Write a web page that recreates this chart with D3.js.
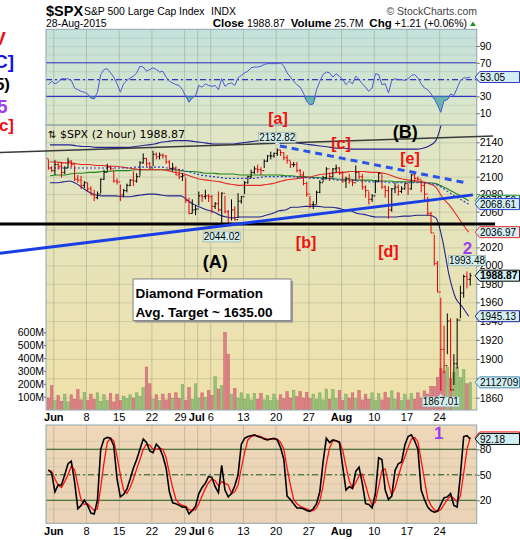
<!DOCTYPE html>
<html><head><meta charset="utf-8">
<script src="https://cdn.jsdelivr.net/npm/d3@7/dist/d3.min.js"></script>
<style>body{margin:0;background:#fff}svg{display:block}</style>
</head><body><svg id="chart" width="520" height="540"></svg>
<script>
// ================= DATA =================
const tickDays   = [1,6,11,16,21,23,25,30,35,40,45,50,55,60];
const tickLabels = ["Jun","8","15","22","29","Jul","6","13","20","27","Aug","10","17","24"];
const monthLabels = ["Jun","Jul","Aug"];
const priceTicks = [1860,1880,1900,1920,1940,1960,1980,2000,2020,2040,2060,2080,2100,2120,2140];
const volTicks   = [100,200,300,400,500,600];
const rsiTicks   = [10,30,50,70,90];
const stochTicks = [20,50,80];
const priorClose = 2120.8;
const prevDayClose = 1987.66;
const lastVolumeText = "25.7M";

// 2 bars per trading day, May 29 .. Aug 28 2015
const barHigh = [
 2120,2112, 2119,2116, 2117,2112, 2122,2119, 2113,2102,
 2101,2095, 2093,2089, 2085,2083, 2098,2108, 2115,2113,
 2107,2098, 2091,2086, 2092,2097, 2106,2104, 2118,2127,
 2122,2117, 2130,2128, 2128,2127, 2125,2119, 2116,2112,
 2109,2104, 2099,2076, 2074,2068, 2083,2080, 2085,2080,
 2079,2071, 2083,2082, 2078,2062, 2074,2066, 2081,2078,
 2095,2101, 2108,2112, 2114,2111, 2120,2125, 2129,2128,
 2132.82,2131, 2128,2125, 2118,2117, 2117,2109, 2106,2094,
 2078,2072, 2084,2096, 2101,2111, 2105,2110, 2114,2111,
 2106,2100, 2103,2097, 2113,2106, 2103,2090, 2083,2080,
 2096,2105, 2103,2090, 2089,2087, 2093,2091, 2089,2092,
 2092,2103, 2103,2100, 2096,2094, 2077,2060, 2034,2005,
 1965,1935, 1948,1943, 1905,1943, 1978,1990, 1993.48,1992];
const barLow = [
 2108,2105, 2102,2108, 2099,2103, 2110,2111, 2095,2093,
 2086,2087, 2083,2079, 2072,2074, 2081,2096, 2106,2107,
 2093,2091, 2072,2077, 2082,2089, 2089,2093, 2101,2115,
 2112,2109, 2112,2120, 2120,2121, 2115,2108, 2106,2102,
 2097,2095, 2070,2057, 2058,2056, 2067,2071, 2074,2071,
 2058,2063, 2060,2044.02, 2058,2045, 2050,2050, 2053,2069,
 2080,2092, 2098,2103, 2104,2102, 2110,2117, 2120,2122,
 2124,2124, 2119,2115, 2110,2111, 2105,2099, 2090,2077,
 2064,2063, 2069,2081, 2094,2098, 2095,2099, 2105,2102,
 2093,2087, 2092,2089, 2095,2097, 2085,2076, 2068,2071,
 2081,2094, 2086,2076, 2052,2060, 2081,2078, 2081,2085,
 2079,2085, 2094,2095, 2082,2071, 2055,2036, 2000,1971,
 1867.01,1885, 1905,1867, 1873,1890, 1943,1965, 1975,1978];
const barClose = [
 2110,2107, 2114,2112, 2105,2110, 2118,2114, 2097,2096,
 2090,2093, 2086,2079, 2076,2080, 2097,2105, 2111,2109,
 2095,2094, 2079,2084, 2090,2096, 2095,2100, 2116,2121,
 2115,2110, 2126,2123, 2125,2124, 2117,2109, 2110,2102,
 2100,2101, 2073,2058, 2062,2063, 2078,2077, 2078,2077,
 2066,2069, 2062,2081, 2060,2047, 2062,2051, 2072,2077,
 2093,2100, 2105,2109, 2108,2107, 2118,2124, 2124,2127,
 2131,2128, 2122,2119, 2114,2114, 2107,2102, 2092,2080,
 2068,2068, 2082,2093, 2099,2109, 2100,2109, 2110,2104,
 2095,2098, 2095,2093, 2105,2100, 2088,2084, 2074,2078,
 2095,2104, 2088,2084, 2062,2086, 2088,2083, 2086,2092,
 2086,2102, 2098,2097, 2090,2080, 2058,2036, 2002,1971,
 1910,1893, 1940,1868, 1895,1941, 1970,1988, 1985,1988.87];
// volume in millions
const volume = [
 90,185,70,110,65,120,60,115,80,155,
 75,135,70,120,80,130,65,115,70,125,
 60,120,70,105,85,115,90,130,100,170,
 330,200,80,115,70,120,75,125,90,130,
 85,195,70,170,80,200,90,130,95,150,
 110,255,160,185,600,430,120,165,90,130,
 80,120,75,125,80,125,75,110,70,120,
 75,115,85,140,90,150,100,140,90,135,
 85,120,80,130,75,160,80,155,85,150,
 70,120,90,130,85,150,75,120,80,130,
 70,125,75,135,90,145,80,130,70,120,
 75,125,80,130,90,145,120,180,180,250,
 320,300,330,240,290,330,250,310,200,211.2709];
const rsi = [
 44,48,45,47,51,51,51,49,40,38,
 36,35,33,28,27,35,56,62,63,58,
 53,45,35,45,49,52,54,58,66,65,
 60,62,64,62,59,60,53,48,46,44,
 43,38,30,23,28,31,43,41,45,43,
 42,43,38,51,42,45,46,43,52,55,
 58,60,64,65,65,66,68,69,69,69,
 69,70,66,58,53,48,44,41,34,24,
 20,21,38,48,56,59,58,53,57,54,
 50,44,48,45,54,50,45,41,36,40,
 57,56,44,45,34,49,51,50,50,49,
 51,55,56,52,45,40,38,33,27,20,
 11,25,26,33,31,40,49,52,52,53.05];
const stochK = [
 56,52,30,38,38,50,63,66,42,10,
 14,20,14,5,4,20,80,92,94,93,
 84,45,24,27,33,45,58,68,80,92,
 88,78,76,86,82,72,58,30,17,16,
 14,12,12,4,8,13,28,35,40,48,
 47,36,29,61,32,24,28,37,50,86,
 93,95,96,97,95,94,92,91,92,93,
 91,82,68,25,21,16,11,11,10,8,
 7,10,16,30,65,93,88,91,90,88,
 60,32,36,34,54,59,40,16,15,11,
 28,70,68,32,21,25,55,63,65,85,
 95,97,90,80,32,21,12,8,6,7,
 15,23,24,28,14,12,50,95,96,92.18];
const stochD = [
 55,54,45,38,35,42,50,60,56,38,
 20,15,16,12,8,10,35,64,88,93,
 90,72,50,32,28,35,45,57,68,80,
 86,85,80,80,81,80,70,52,35,21,
 16,14,13,9,8,9,16,25,34,41,
 45,43,37,42,40,38,28,30,38,58,
 76,91,95,96,96,95,93,92,92,92,
 92,88,80,58,38,21,16,13,11,10,
 8,8,11,19,37,63,82,90,90,89,
 79,60,43,34,41,49,51,38,24,14,
 18,36,55,57,40,26,34,48,61,71,
 82,92,94,89,67,44,22,14,9,7,
 9,15,21,25,22,18,25,52,80,94];
// one value per trading day
const upperBB = [
 2137,2137,2137,2137,2136,2135,2135,2134,2134,2134,
 2134,2134,2134,2135,2136,2137,2138,2140,2141,2142,
 2142,2142,2141,2140,2139,2138,2138,2138,2138,2139,
 2140,2141,2142,2143,2143,2142,2141,2140,2139,2138,
 2137,2136,2135,2134,2133,2133,2132,2132,2132,2132,
 2132,2132,2132,2132,2132,2132,2132,2133,2136,2142,
 2165,2185,2195,2200,2200];
const lowerBB = [
 2093,2093,2094,2095,2092,2087,2082,2079,2078,2078,
 2078,2077,2077,2078,2079,2080,2080,2079,2078,2078,
 2078,2073,2068,2065,2062,2060,2056,2054,2053,2054,
 2054,2054,2054,2056,2058,2061,2062,2065,2065,2066,
 2066,2066,2065,2065,2064,2062,2061,2058,2057,2055,
 2054,2054,2054,2054,2055,2055,2056,2056,2056,2053,
 2028.6,1990,1965,1955.5,1945.13];
const midBB = [
 2110,2110,2110,2110,2110,2110,2110,2110,2110,2110,
 2110,2110,2110,2111,2111,2111,2111,2111,2110,2109,
 2108,2106,2104,2102,2101,2100,2099,2098,2098,2098,
 2098,2098,2099,2100,2100,2100,2100,2100,2099,2099,
 2098,2098,2097,2097,2096,2096,2096,2095,2095,2094,
 2094,2094,2093,2093,2093,2093,2093,2093,2092,2091,
 2087,2082,2077,2073,2068.61];
const maRed = [
 2117,2117,2116,2116,2115,2114,2114,2113,2113,2112,
 2112,2111,2110,2109,2108,2108,2108,2108,2107,2105,
 2104,2102,2099,2097,2096,2095,2094,2092,2091,2090,
 2090,2090,2090,2091,2092,2094,2096,2097,2098,2099,
 2100,2102,2103,2104,2105,2105,2106,2106,2106,2105,
 2105,2104,2102,2099,2097,2096,2095,2094,2092,2088,
 2076,2068,2058,2047,2036.97];
const maGreen = [
 2101,2102,2102,2103,2104,2104,2105,2105,2106,2106,
 2107,2107,2107,2108,2108,2108,2108,2108,2108,2108,
 2107,2106,2106,2105,2104,2104,2103,2103,2103,2102,
 2102,2102,2102,2102,2102,2102,2101,2101,2100,2100,
 2099,2099,2098,2098,2097,2097,2097,2096,2096,2096,
 2095,2095,2095,2094,2094,2094,2094,2093,2093,2092,
 2088.6,2085,2081,2077,2072.5];
// hand-drawn annotations (bar index, price)
const trendLines = [
  {pts:[[-14.3,2128],[136.5,2147.4]], color:"#3a3a3a", w:1.4, dash:null},
  {pts:[[-14.3,2046.1],[137.1,2046.1]], color:"#000", w:3, dash:null},
  {pts:[[-14.3,2013.5],[130.3,2079.1]], color:"#1a3ee6", w:3, dash:null},
  {pts:[[71.3,2135.7],[128.8,2092.5]], color:"#2b55ea", w:3, dash:"7,5"}
];
const waveText = [
  {t:"[a]", j:70.7, p:2168, c:"#ee1111", s:16},
  {t:"(B)", j:109.6, p:2152, c:"#000", s:18},
  {t:"[c]", j:90, p:2139, c:"#ee1111", s:16},
  {t:"[e]", j:111.1, p:2121.6, c:"#ee1111", s:16},
  {t:"[b]", j:79.3, p:2026, c:"#ee1111", s:16},
  {t:"[d]", j:104.5, p:2016, c:"#ee1111", s:16},
  {t:"(A)", j:51.5, p:2003.9, c:"#000", s:18},
  {t:"2", j:128.7, p:2019.3, c:"#9d3ff0", s:17}
];
const stochText = [{t:"1", j:119.9, v:99, c:"#9d3ff0", s:17}];
const noteLines = ["Diamond Formation", "Avg. Target ~ 1635.00"];
const noteBox = {j0:26.4, j1:74.7, p0:1985.3, p1:1940.4};
const peakLabels = [{j:70, v:2132.82, above:true},{j:53, v:2044.02, above:false},{j:128, v:1993.48, above:true},{j:120, v:1867.01, above:false}];
const leftMarks = [
  {t:"V",   c:"#ee1111", x:6,  y:45,  s:19},
  {t:"[C]", c:"#1515e0", x:14, y:68,  s:19},
  {t:"(5)", c:"#000",    x:10, y:90,  s:17},
  {t:"5",   c:"#9d3ff0", x:7.5,y:113, s:18.5},
  {t:"[c]", c:"#ee1111", x:14, y:131, s:17}
];

// ================= LAYOUT =================
const FONT = "'Liberation Sans', Arial, sans-serif";
const L = 46, R = 476.7;
const P = {rsiT:29.3, rsiB:125, mainT:125, mainB:410, stT:425, stB:523.3};
const svg = d3.select("#chart").attr("font-family", FONT);

const xS = d3.scaleLinear().domain([0,130]).range([46.76, 471.86]);
const yP = d3.scaleLog().domain([1860,2140]).range([397.7,142.3]);
const yR = d3.scaleLinear().domain([0,100]).range([121.6,37.6]);
const yS = d3.scaleLinear().domain([0,100]).range([517.3,432.3]);
const yV = d3.scaleLinear().domain([0,600]).range([409.6,332.2]);
const last = a=>a[a.length-1];

const defs = svg.append("defs");
function grad(id,c0,c1){const g=defs.append("linearGradient").attr("id",id).attr("x1",0).attr("x2",0).attr("y1",0).attr("y2",1);
  g.append("stop").attr("offset",0).attr("stop-color",c0);g.append("stop").attr("offset",1).attr("stop-color",c1);}
grad("gR","#c3e1dc","#dde7c7"); grad("gM","#dfe5c6","#f0e1a9"); grad("gS","#efd7b8","#ead3b6");
function clip(id,y0,y1){defs.append("clipPath").attr("id",id).append("rect").attr("x",L).attr("y",y0).attr("width",R-L).attr("height",y1-y0);}
clip("cR",P.rsiT,P.rsiB); clip("cM",P.mainT,P.mainB); clip("cS",P.stT,P.stB);

function panelBg(y0,y1,f){svg.append("rect").attr("x",L).attr("y",y0).attr("width",R-L).attr("height",y1-y0).attr("fill",f);}
panelBg(P.rsiT,P.rsiB,"url(#gR)"); panelBg(P.mainT,P.mainB,"url(#gM)"); panelBg(P.stT,P.stB,"url(#gS)");

const tickIdx = tickDays.map(d=>2*d);
const GRID = "#8f9a86";
function vgrid(y0,y1){svg.append("g").attr("transform",`translate(0,${y1})`)
  .call(d3.axisBottom(xS).tickValues(tickIdx).tickSize(-(y1-y0)).tickFormat(""))
  .call(g=>{g.select(".domain").remove();g.selectAll("line").attr("stroke",GRID).attr("stroke-opacity",0.45);});}
function hgrid(scale,vals,op){svg.append("g").attr("transform",`translate(${L},0)`)
  .call(d3.axisLeft(scale).tickValues(vals).tickSize(-(R-L)).tickFormat(""))
  .call(g=>{g.select(".domain").remove();g.selectAll("line").attr("stroke",GRID).attr("stroke-opacity",op);});}
hgrid(yR,d3.range(10,101,10),0.22); hgrid(yP,priceTicks,0.3); hgrid(yS,d3.range(10,100,10),0.22);
vgrid(P.rsiT,P.rsiB); vgrid(P.mainT,P.mainB); vgrid(P.stT,P.stB);

// ---- RSI panel
const rG = svg.append("g").attr("clip-path","url(#cR)");
[[30,null],[70,null],[50,"6,3,2,3"]].forEach(([v,d])=>{
  rG.append("line").attr("x1",L).attr("x2",R).attr("y1",yR(v)).attr("y2",yR(v)).attr("stroke","#3434c4").attr("stroke-width",1.1).attr("stroke-dasharray",d);});
rG.append("path").datum(rsi).attr("d",d3.area().x((d,i)=>xS(i+0.5)).y0(yR(30)).y1(d=>yR(Math.min(d,30))))
  .attr("fill","#4fa8a6").attr("fill-opacity",0.8);
rG.append("path").datum(rsi).attr("d",d3.line().x((d,i)=>xS(i+0.5)).y(d=>yR(d)))
  .attr("fill","none").attr("stroke","#4a5ad4").attr("stroke-width",1);

// ---- Main panel
const mG = svg.append("g").attr("clip-path","url(#cM)");
const bars = barClose.map((c,i)=>({i,h:barHigh[i],l:barLow[i],c,o:i?barClose[i-1]:priorClose,v:volume[i]}));
const bw = xS(1)-xS(0);
mG.append("g").selectAll("rect").data(bars).join("rect")
  .attr("x",d=>xS(d.i)+0.35).attr("width",bw-0.7)
  .attr("y",d=>yV(d.v)).attr("height",d=>yV(0)-yV(d.v))
  .attr("fill",d=>d.c>=d.o?"#98c27a":"#dd8189").attr("stroke",d=>d.c>=d.o?"#7aa65a":"#c4606a").attr("stroke-width",0.5);
const dayLine = d3.line().x((d,i)=>xS(2*i+1)).y(d=>yP(d)).curve(d3.curveMonotoneX);
[[maGreen,"#1f861f",1.1,null],[maRed,"#e42a2a",1.1,null],[upperBB,"#23238e",1.1,null],[lowerBB,"#23238e",1.1,null],[midBB,"#2a3fd0",1.2,"2,2"]]
 .forEach(([arr,c,w,d])=>mG.append("path").datum(arr).attr("d",dayLine).attr("fill","none").attr("stroke",c).attr("stroke-width",w).attr("stroke-dasharray",d));
mG.append("g").selectAll("path").data(bars).join("path")
  .attr("d",d=>{const x=xS(d.i+0.5);return `M${x},${yP(d.h)}V${yP(d.l)}M${x-1.4},${yP(d.o)}H${x}M${x},${yP(d.c)}H${x+1.4}`;})
  .attr("stroke",d=>d.c>=d.o?"#000":"#e80000").attr("stroke-width",1).attr("fill","none");

// ---- Stoch panel
const sG = svg.append("g").attr("clip-path","url(#cS)");
[[20,null],[80,null],[50,"6,3,2,3"]].forEach(([v,d])=>{
  sG.append("line").attr("x1",L).attr("x2",R).attr("y1",yS(v)).attr("y2",yS(v)).attr("stroke","#1d5e1d").attr("stroke-width",1.1).attr("stroke-dasharray",d);});
const sLine = d3.line().x((d,i)=>xS(i+0.5)).y(d=>yS(d));
sG.append("path").datum(stochD).attr("d",sLine).attr("fill","none").attr("stroke","#ff1010").attr("stroke-width",1.3);
sG.append("path").datum(stochK).attr("d",sLine).attr("fill","none").attr("stroke","#000").attr("stroke-width",1.6);

// ---- borders
[[P.rsiT,P.rsiB],[P.mainT,P.mainB],[P.stT,P.stB]].forEach(([a,b])=>svg.append("rect").attr("x",L).attr("y",a).attr("width",R-L).attr("height",b-a).attr("fill","none").attr("stroke","#8ea6ad").attr("stroke-width",1));

// ---- value boxes positions (used to hide covered tick labels)
const priceBoxYs = [yP(last(maGreen)),yP(last(midBB)),yP(last(maRed)),yP(last(barClose)),yP(last(lowerBB)),yV(last(volume))];
const rsiBoxYs = [yR(last(rsi))];
const stBoxYs = [yS(last(stochD)),yS(last(stochK))];

// ---- axes
function styleAx(g,size){g.select(".domain").remove();g.selectAll("text").attr("font-size",size).attr("font-family",FONT).attr("fill","#000");g.selectAll("line").attr("stroke","#666");}
function rightAxis(scale,vals,boxYs){
  const shown = vals.filter(v=>boxYs.every(y=>Math.abs(scale(v)-y)>4.6));
  svg.append("g").attr("transform",`translate(${R},0)`)
  .call(d3.axisRight(scale).tickValues(vals).tickSize(3).tickPadding(0).tickFormat(v=>shown.includes(v)?d3.format("d")(v):"")).call(g=>styleAx(g,10.5));}
rightAxis(yR,rsiTicks,rsiBoxYs); rightAxis(yP,priceTicks,priceBoxYs); rightAxis(yS,stochTicks,stBoxYs);
svg.append("g").attr("transform",`translate(${L},0)`)
  .call(d3.axisLeft(yV).tickValues(volTicks).tickSize(2).tickPadding(0).tickFormat(d=>d+"M")).call(g=>styleAx(g,10.5));
function xAxis(y){const g=svg.append("g").attr("transform",`translate(0,${y})`)
  .call(d3.axisBottom(xS).tickValues(tickIdx).tickSize(0).tickPadding(3.5).tickFormat((d,i)=>tickLabels[i]));
  styleAx(g,11);
  g.selectAll("text").attr("font-weight",(d,i)=>monthLabels.includes(tickLabels[i])?"bold":"normal");
  const nodes=g.selectAll("text").nodes();
  for(let i=0;i<nodes.length-1;i++){const a=nodes[i].getBBox(),b=nodes[i+1].getBBox();
    const ta=nodes[i].parentNode.transform.baseVal.consolidate().matrix.e, tb=nodes[i+1].parentNode.transform.baseVal.consolidate().matrix.e;
    const ov=(ta+a.x+a.width)-(tb+b.x)+3; if(ov>0) d3.select(nodes[i]).attr("x",-ov);}
}
xAxis(P.mainB); xAxis(P.stB);

// ---- trend lines
const tl = d3.line().x(d=>xS(d[0])).y(d=>yP(d[1]));
trendLines.forEach(t=>svg.append("path").datum(t.pts).attr("d",tl).attr("fill","none").attr("stroke",t.color).attr("stroke-width",t.w).attr("stroke-dasharray",t.dash));

// ---- texts
svg.append("text").attr("x",48).attr("y",138).attr("font-family","'DejaVu Sans',sans-serif").attr("font-size",10).text("⇅");
svg.append("text").attr("x",60).attr("y",138).attr("font-family","'DejaVu Sans',sans-serif").attr("font-size",11).text("$SPX (2 hour) "+last(barClose).toFixed(2));
waveText.forEach(w=>svg.append("text").attr("x",xS(w.j)).attr("y",yP(w.p)).attr("dy","0.35em").attr("text-anchor","middle")
  .attr("font-size",w.s).attr("font-weight","bold").attr("fill",w.c).text(w.t));
stochText.forEach(w=>svg.append("text").attr("x",xS(w.j)).attr("y",yS(w.v)).attr("dy","0.35em").attr("text-anchor","middle")
  .attr("font-size",w.s).attr("font-weight","bold").attr("fill",w.c).text(w.t));
leftMarks.forEach(m=>svg.append("text").attr("x",m.x).attr("y",m.y).attr("text-anchor","end").attr("font-size",m.s).attr("font-weight","bold").attr("fill",m.c).text(m.t));

// note box
{const x0=xS(noteBox.j0),x1=xS(noteBox.j1),y0=yP(noteBox.p0),y1=yP(noteBox.p1);
 svg.append("rect").attr("x",x0+2).attr("y",y0+2).attr("width",x1-x0).attr("height",y1-y0).attr("fill","#9a9a9a");
 svg.append("rect").attr("x",x0).attr("y",y0).attr("width",x1-x0).attr("height",y1-y0).attr("fill","#fff").attr("stroke","#808080");
 noteLines.forEach((t,i)=>svg.append("text").attr("x",x0+2.5).attr("y",y0+19+i*19).attr("font-size",13.5).attr("font-weight","bold").text(t));}

// peak labels
peakLabels.forEach(p=>{const x=xS(p.j+0.5),y=yP(p.v),w=37,h=10;
  const by = p.above? y-6-h : y+6;
  const g=svg.append("g");
  g.append("rect").attr("x",x-w/2).attr("y",by).attr("width",w).attr("height",h).attr("fill","#d6f0ee").attr("stroke","#9db7b7").attr("stroke-width",0.8);
  const ty = p.above? by+h : by;
  g.append("path").attr("d",p.above?`M${x-3},${ty}L${x},${ty+3}L${x+3},${ty}Z`:`M${x-3},${ty}L${x},${ty-3}L${x+3},${ty}Z`).attr("fill","#d6f0ee").attr("stroke","#9db7b7").attr("stroke-width",0.6);
  g.append("text").attr("x",x).attr("y",by+8.6).attr("text-anchor","middle").attr("font-size",10).text(p.v.toFixed(2));});

// right value boxes
function vbox(y,txt,stroke,bold){const h=5.5,g=svg.append("g");
  g.append("path").attr("d",`M${R-1.5},${y}L${R+3},${y-h}H519.5V${y+h}H${R+3}Z`).attr("fill","#d3eff4").attr("stroke",stroke).attr("stroke-width",1);
  g.append("text").attr("x",R+3.3).attr("y",y+3.6).attr("font-size",bold?10.4:10).attr("font-weight",bold?"bold":"normal").text(txt);}
vbox(yR(last(rsi)), last(rsi).toFixed(2), "#3434c4");
vbox(yP(last(maGreen)), last(maGreen).toFixed(2), "#1f861f");
vbox(yP(last(midBB)), last(midBB).toFixed(2), "#2a3fd0");
vbox(yP(last(maRed)), last(maRed).toFixed(2), "#e42a2a");
vbox(yP(last(barClose)), last(barClose).toFixed(2), "#000", true);
vbox(yP(last(lowerBB)), last(lowerBB).toFixed(2), "#23238e");
vbox(yV(last(volume)), Math.round(last(volume)*10000).toString(), "#4a8ab0");
vbox(yS(last(stochD)), last(stochD).toFixed(2), "#ff1010");
vbox(yS(last(stochK)), last(stochK).toFixed(2), "#000");

// header
svg.append("text").attr("x",46).attr("y",16).attr("font-size",14.5).attr("font-weight","bold").text("$SPX");
svg.append("text").attr("x",84).attr("y",15).attr("font-size",10.4).text("S&P 500 Large Cap Index");
svg.append("text").attr("x",211).attr("y",15).attr("font-size",10.4).text("INDX");
svg.append("text").attr("x",477).attr("y",15).attr("text-anchor","end").attr("font-size",10.5).attr("fill","#444").text("© StockCharts.com");
svg.append("text").attr("x",46).attr("y",27).attr("font-size",10.5).text("28-Aug-2015");
{const c=last(barClose), ch=c-prevDayClose;
 const hd=svg.append("text").attr("x",467).attr("y",27).attr("text-anchor","end").attr("font-size",10.5).attr("style","white-space:pre");
 hd.append("tspan").attr("font-weight","bold").attr("font-size",11.5).text("Close");
 hd.append("tspan").text(" "+c.toFixed(2)+"  ");
 hd.append("tspan").attr("font-weight","bold").attr("font-size",11.5).text("Volume");
 hd.append("tspan").text(" "+lastVolumeText+"  ");
 hd.append("tspan").attr("font-weight","bold").attr("font-size",11.5).text("Chg");
 hd.append("tspan").text(" +"+ch.toFixed(2)+" (+"+(ch/prevDayClose*100).toFixed(2)+"%)");
 svg.append("path").attr("d","M470,26L473,21.5L476,26Z").attr("fill","#1f9a1f");}
</script></body></html>
